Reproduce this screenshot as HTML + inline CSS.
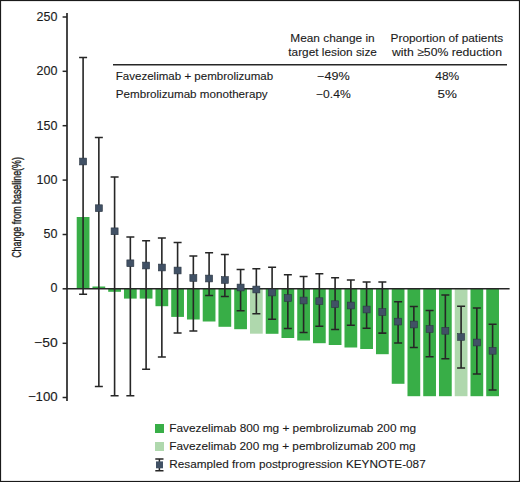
<!DOCTYPE html>
<html><head><meta charset="utf-8"><style>
html,body{margin:0;padding:0;background:#fff;}
body{width:520px;height:482px;overflow:hidden;}
svg{display:block;}
.t{font-family:"Liberation Sans",sans-serif;font-size:12.5px;fill:#1a1a1a;stroke:#1a1a1a;stroke-width:0.12px;}
.s{font-family:"Liberation Sans",sans-serif;font-size:11.2px;fill:#1a1a1a;stroke:#1a1a1a;stroke-width:0.1px;}
.yl{font-family:"Liberation Sans",sans-serif;font-size:12px;fill:#1a1a1a;stroke:#1a1a1a;stroke-width:0.35px;}
</style></head><body>
<svg width="520" height="482" viewBox="0 0 520 482">
<rect x="0" y="0" width="520" height="482" fill="#fff"/>
<rect x="76.72" y="217.00" width="12.75" height="71.80" fill="#38ae47"/>
<rect x="92.47" y="286.50" width="12.75" height="2.30" fill="#38ae47"/>
<rect x="108.22" y="288.80" width="12.75" height="3.00" fill="#38ae47"/>
<rect x="123.97" y="288.80" width="12.75" height="9.80" fill="#38ae47"/>
<rect x="139.72" y="288.80" width="12.75" height="9.80" fill="#38ae47"/>
<rect x="155.47" y="288.80" width="12.75" height="17.40" fill="#38ae47"/>
<rect x="171.22" y="288.80" width="12.75" height="28.10" fill="#38ae47"/>
<rect x="186.97" y="288.80" width="12.75" height="30.70" fill="#38ae47"/>
<rect x="202.72" y="288.80" width="12.75" height="32.70" fill="#38ae47"/>
<rect x="218.47" y="288.80" width="12.75" height="38.00" fill="#38ae47"/>
<rect x="234.22" y="288.80" width="12.75" height="40.40" fill="#38ae47"/>
<rect x="249.98" y="288.80" width="12.75" height="44.90" fill="#afd8ad"/>
<rect x="265.73" y="288.80" width="12.75" height="45.00" fill="#38ae47"/>
<rect x="281.48" y="288.80" width="12.75" height="49.20" fill="#38ae47"/>
<rect x="297.23" y="288.80" width="12.75" height="51.70" fill="#38ae47"/>
<rect x="312.98" y="288.80" width="12.75" height="54.40" fill="#38ae47"/>
<rect x="328.73" y="288.80" width="12.75" height="56.20" fill="#38ae47"/>
<rect x="344.48" y="288.80" width="12.75" height="58.70" fill="#38ae47"/>
<rect x="360.23" y="288.80" width="12.75" height="60.20" fill="#38ae47"/>
<rect x="375.98" y="288.80" width="12.75" height="65.40" fill="#38ae47"/>
<rect x="391.73" y="288.80" width="12.75" height="95.00" fill="#38ae47"/>
<rect x="407.48" y="288.80" width="12.75" height="107.40" fill="#38ae47"/>
<rect x="423.23" y="288.80" width="12.75" height="107.40" fill="#38ae47"/>
<rect x="438.98" y="288.80" width="12.75" height="107.40" fill="#38ae47"/>
<rect x="454.73" y="288.80" width="12.75" height="107.40" fill="#afd8ad"/>
<rect x="470.48" y="288.80" width="12.75" height="107.40" fill="#38ae47"/>
<rect x="486.23" y="288.80" width="12.75" height="107.40" fill="#38ae47"/>
<line x1="67" y1="288.8" x2="509.6" y2="288.8" stroke="#262626" stroke-width="1.5"/>
<path d="M79.10 57.5H87.10M83.10 57.5V294.3M79.10 294.3H87.10" stroke="#262626" stroke-width="1.6" fill="none"/>
<rect x="79.60" y="158.10" width="7" height="6.8" fill="#415165" stroke="#2b3642" stroke-width="0.6"/>
<path d="M94.85 137.5H102.85M98.85 137.5V386.5M94.85 386.5H102.85" stroke="#262626" stroke-width="1.6" fill="none"/>
<rect x="95.35" y="204.80" width="7" height="6.8" fill="#415165" stroke="#2b3642" stroke-width="0.6"/>
<path d="M110.60 177.0H118.60M114.60 177.0V395.8M110.60 395.8H118.60" stroke="#262626" stroke-width="1.6" fill="none"/>
<rect x="111.10" y="227.90" width="7" height="6.8" fill="#415165" stroke="#2b3642" stroke-width="0.6"/>
<path d="M126.35 237.0H134.35M130.35 237.0V395.8M126.35 395.8H134.35" stroke="#262626" stroke-width="1.6" fill="none"/>
<rect x="126.85" y="259.90" width="7" height="6.8" fill="#415165" stroke="#2b3642" stroke-width="0.6"/>
<path d="M142.10 240.8H150.10M146.10 240.8V369.3M142.10 369.3H150.10" stroke="#262626" stroke-width="1.6" fill="none"/>
<rect x="142.60" y="262.10" width="7" height="6.8" fill="#415165" stroke="#2b3642" stroke-width="0.6"/>
<path d="M157.85 238.0H165.85M161.85 238.0V357.0M157.85 357.0H165.85" stroke="#262626" stroke-width="1.6" fill="none"/>
<rect x="158.35" y="264.10" width="7" height="6.8" fill="#415165" stroke="#2b3642" stroke-width="0.6"/>
<path d="M173.60 242.5H181.60M177.60 242.5V333.0M173.60 333.0H181.60" stroke="#262626" stroke-width="1.6" fill="none"/>
<rect x="174.10" y="267.10" width="7" height="6.8" fill="#415165" stroke="#2b3642" stroke-width="0.6"/>
<path d="M189.35 256.0H197.35M193.35 256.0V331.0M189.35 331.0H197.35" stroke="#262626" stroke-width="1.6" fill="none"/>
<rect x="189.85" y="274.60" width="7" height="6.8" fill="#415165" stroke="#2b3642" stroke-width="0.6"/>
<path d="M205.10 252.8H213.10M209.10 252.8V295.5M205.10 295.5H213.10" stroke="#262626" stroke-width="1.6" fill="none"/>
<rect x="205.60" y="275.10" width="7" height="6.8" fill="#415165" stroke="#2b3642" stroke-width="0.6"/>
<path d="M220.85 254.5H228.85M224.85 254.5V296.5M220.85 296.5H228.85" stroke="#262626" stroke-width="1.6" fill="none"/>
<rect x="221.35" y="276.60" width="7" height="6.8" fill="#415165" stroke="#2b3642" stroke-width="0.6"/>
<path d="M236.60 269.5H244.60M240.60 269.5V310.8M236.60 310.8H244.60" stroke="#262626" stroke-width="1.6" fill="none"/>
<rect x="237.10" y="284.10" width="7" height="6.8" fill="#415165" stroke="#2b3642" stroke-width="0.6"/>
<path d="M252.35 268.8H260.35M256.35 268.8V313.8M252.35 313.8H260.35" stroke="#262626" stroke-width="1.6" fill="none"/>
<rect x="252.85" y="286.10" width="7" height="6.8" fill="#415165" stroke="#2b3642" stroke-width="0.6"/>
<path d="M268.10 267.2H276.10M272.10 267.2V319.2M268.10 319.2H276.10" stroke="#262626" stroke-width="1.6" fill="none"/>
<rect x="268.60" y="289.10" width="7" height="6.8" fill="#415165" stroke="#2b3642" stroke-width="0.6"/>
<path d="M283.85 274.8H291.85M287.85 274.8V328.5M283.85 328.5H291.85" stroke="#262626" stroke-width="1.6" fill="none"/>
<rect x="284.35" y="294.60" width="7" height="6.8" fill="#415165" stroke="#2b3642" stroke-width="0.6"/>
<path d="M299.60 276.5H307.60M303.60 276.5V332.5M299.60 332.5H307.60" stroke="#262626" stroke-width="1.6" fill="none"/>
<rect x="300.10" y="297.10" width="7" height="6.8" fill="#415165" stroke="#2b3642" stroke-width="0.6"/>
<path d="M315.35 273.8H323.35M319.35 273.8V326.2M315.35 326.2H323.35" stroke="#262626" stroke-width="1.6" fill="none"/>
<rect x="315.85" y="297.80" width="7" height="6.8" fill="#415165" stroke="#2b3642" stroke-width="0.6"/>
<path d="M331.10 277.8H339.10M335.10 277.8V329.5M331.10 329.5H339.10" stroke="#262626" stroke-width="1.6" fill="none"/>
<rect x="331.60" y="300.80" width="7" height="6.8" fill="#415165" stroke="#2b3642" stroke-width="0.6"/>
<path d="M346.85 280.0H354.85M350.85 280.0V325.2M346.85 325.2H354.85" stroke="#262626" stroke-width="1.6" fill="none"/>
<rect x="347.35" y="302.10" width="7" height="6.8" fill="#415165" stroke="#2b3642" stroke-width="0.6"/>
<path d="M362.60 282.0H370.60M366.60 282.0V328.2M362.60 328.2H370.60" stroke="#262626" stroke-width="1.6" fill="none"/>
<rect x="363.10" y="306.10" width="7" height="6.8" fill="#415165" stroke="#2b3642" stroke-width="0.6"/>
<path d="M378.35 282.0H386.35M382.35 282.0V333.1M378.35 333.1H386.35" stroke="#262626" stroke-width="1.6" fill="none"/>
<rect x="378.85" y="308.60" width="7" height="6.8" fill="#415165" stroke="#2b3642" stroke-width="0.6"/>
<path d="M394.10 301.8H402.10M398.10 301.8V343.0M394.10 343.0H402.10" stroke="#262626" stroke-width="1.6" fill="none"/>
<rect x="394.60" y="318.20" width="7" height="6.8" fill="#415165" stroke="#2b3642" stroke-width="0.6"/>
<path d="M409.85 306.5H417.85M413.85 306.5V347.5M409.85 347.5H417.85" stroke="#262626" stroke-width="1.6" fill="none"/>
<rect x="410.35" y="321.10" width="7" height="6.8" fill="#415165" stroke="#2b3642" stroke-width="0.6"/>
<path d="M425.60 310.5H433.60M429.60 310.5V356.8M425.60 356.8H433.60" stroke="#262626" stroke-width="1.6" fill="none"/>
<rect x="426.10" y="325.60" width="7" height="6.8" fill="#415165" stroke="#2b3642" stroke-width="0.6"/>
<path d="M441.35 295.0H449.35M445.35 295.0V358.8M441.35 358.8H449.35" stroke="#262626" stroke-width="1.6" fill="none"/>
<rect x="441.85" y="327.40" width="7" height="6.8" fill="#415165" stroke="#2b3642" stroke-width="0.6"/>
<path d="M457.10 306.2H465.10M461.10 306.2V368.0M457.10 368.0H465.10" stroke="#262626" stroke-width="1.6" fill="none"/>
<rect x="457.60" y="333.60" width="7" height="6.8" fill="#415165" stroke="#2b3642" stroke-width="0.6"/>
<path d="M472.85 308.0H480.85M476.85 308.0V374.0M472.85 374.0H480.85" stroke="#262626" stroke-width="1.6" fill="none"/>
<rect x="473.35" y="339.10" width="7" height="6.8" fill="#415165" stroke="#2b3642" stroke-width="0.6"/>
<path d="M488.60 324.2H496.60M492.60 324.2V390.0M488.60 390.0H496.60" stroke="#262626" stroke-width="1.6" fill="none"/>
<rect x="489.10" y="347.40" width="7" height="6.8" fill="#415165" stroke="#2b3642" stroke-width="0.6"/>
<line x1="67" y1="13" x2="67" y2="401" stroke="#262626" stroke-width="1.7"/>
<line x1="62.6" y1="17.0" x2="67" y2="17.0" stroke="#262626" stroke-width="1.5"/>
<text x="57.4" y="21" text-anchor="end" class="t">250</text>
<line x1="62.6" y1="71.3" x2="67" y2="71.3" stroke="#262626" stroke-width="1.5"/>
<text x="57.4" y="75" text-anchor="end" class="t">200</text>
<line x1="62.6" y1="125.7" x2="67" y2="125.7" stroke="#262626" stroke-width="1.5"/>
<text x="57.4" y="130" text-anchor="end" class="t">150</text>
<line x1="62.6" y1="180.1" x2="67" y2="180.1" stroke="#262626" stroke-width="1.5"/>
<text x="57.4" y="184" text-anchor="end" class="t">100</text>
<line x1="62.6" y1="234.5" x2="67" y2="234.5" stroke="#262626" stroke-width="1.5"/>
<text x="57.4" y="238" text-anchor="end" class="t">50</text>
<line x1="62.6" y1="288.8" x2="67" y2="288.8" stroke="#262626" stroke-width="1.5"/>
<text x="57.4" y="292" text-anchor="end" class="t">0</text>
<line x1="62.6" y1="343.3" x2="67" y2="343.3" stroke="#262626" stroke-width="1.5"/>
<line x1="62.6" y1="397.5" x2="67" y2="397.5" stroke="#262626" stroke-width="1.5"/>
<text transform="translate(20.6,207.45) rotate(-90) scale(0.742,1)" text-anchor="middle" class="yl">Change from baseline(%)</text>
<line x1="113" y1="64.8" x2="507" y2="64.8" stroke="#262626" stroke-width="1.6"/>
<text x="290.30" y="42.0" textLength="84.40" lengthAdjust="spacingAndGlyphs" class="s">Mean change in</text>
<text x="288.30" y="56.1" textLength="88.65" lengthAdjust="spacingAndGlyphs" class="s">target lesion size</text>
<text x="390.55" y="42.0" textLength="112.65" lengthAdjust="spacingAndGlyphs" class="s">Proportion of patients</text>
<text x="392.05" y="56.1" textLength="109.90" lengthAdjust="spacingAndGlyphs" class="s">with ≥50% reduction</text>
<text x="115.80" y="79.5" textLength="157.40" lengthAdjust="spacingAndGlyphs" class="s">Favezelimab + pembrolizumab</text>
<text x="115.80" y="97.9" textLength="151.90" lengthAdjust="spacingAndGlyphs" class="s">Pembrolizumab monotherapy</text>
<text x="317.05" y="79.7" textLength="32.65" lengthAdjust="spacingAndGlyphs" class="s">−49%</text>
<text x="316.05" y="97.9" textLength="34.65" lengthAdjust="spacingAndGlyphs" class="s">−0.4%</text>
<text x="435.30" y="79.7" textLength="23.90" lengthAdjust="spacingAndGlyphs" class="s">48%</text>
<text x="437.55" y="97.9" textLength="19.40" lengthAdjust="spacingAndGlyphs" class="s">5%</text>
<text x="169.30" y="431.9" textLength="246.90" lengthAdjust="spacingAndGlyphs" class="s">Favezelimab 800 mg + pembrolizumab 200 mg</text>
<text x="169.30" y="449.9" textLength="246.40" lengthAdjust="spacingAndGlyphs" class="s">Favezelimab 200 mg + pembrolizumab 200 mg</text>
<text x="169.30" y="468.0" textLength="256.40" lengthAdjust="spacingAndGlyphs" class="s">Resampled from postprogression KEYNOTE-087</text>
<text x="34.10" y="347" textLength="23.60" lengthAdjust="spacingAndGlyphs" class="t">−50</text>
<text x="27.90" y="401" textLength="29.80" lengthAdjust="spacingAndGlyphs" class="t">−100</text>
<rect x="155" y="424" width="9" height="9" fill="#38ae47"/>
<rect x="155" y="442" width="9" height="9" fill="#afd8ad"/>
<path d="M155.3 459H163.5M159.4 459V470.7M155.3 470.7H163.5" stroke="#262626" stroke-width="1.5" fill="none"/>
<rect x="156" y="461.4" width="7" height="6.9" fill="#415165"/>
<rect x="0.5" y="0.5" width="519" height="481" fill="none" stroke="#1a1a1a" stroke-width="1.2"/>
</svg>
</body></html>
